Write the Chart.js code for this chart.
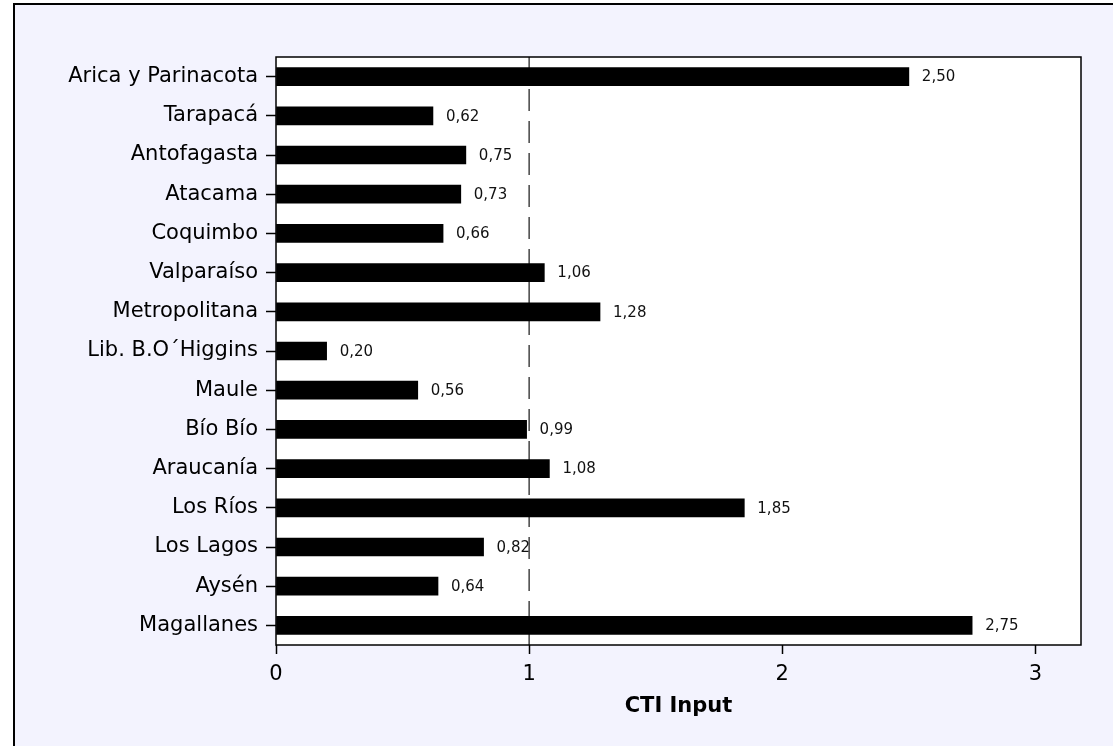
<!DOCTYPE html>
<html>
<head>
<meta charset="utf-8">
<script src="https://cdn.jsdelivr.net/npm/chart.js@4/dist/chart.umd.min.js"></script>
<style>
  html, body { margin: 0; padding: 0; background: #fff; }
  #wrap { width: 1113px; height: 746px; position: relative; }
</style>
</head>
<body>
<div id="wrap"><canvas id="cti_chart"></canvas></div>
<script>
const regions = ['Arica y Parinacota', 'Tarapacá', 'Antofagasta', 'Atacama', 'Coquimbo',
    'Valparaíso', 'Metropolitana', 'Lib. B.O\u00B4Higgins', 'Maule', 'Bío Bío',
    'Araucanía', 'Los Ríos', 'Los Lagos', 'Aysén', 'Magallanes'];
const ctiValues = [2.50, 0.62, 0.75, 0.73, 0.66, 1.06, 1.28, 0.20, 0.56, 0.99, 1.08, 1.85, 0.82, 0.64, 2.75];
const xTicks = [0, 1, 2, 3];
const xMax = 3.18;
const refLine = 1;
const axisTitle = 'CTI Input';

const FONT = '"DejaVu Sans", Verdana, sans-serif';

// panel background, frame, reference line, value labels, axis title
const decorations = {
    id: 'decorations',
    beforeDraw(chart) {
        const ctx = chart.ctx;
        ctx.save();
        ctx.fillStyle = '#fff';
        ctx.fillRect(0, 0, chart.width, chart.height);
        ctx.fillStyle = '#F3F3FE';
        ctx.fillRect(14, 4, chart.width, chart.height);
        ctx.strokeStyle = '#000';
        ctx.lineWidth = 2;
        ctx.strokeRect(14, 4, chart.width + 10, chart.height + 10);
        const a = chart.chartArea;
        ctx.fillStyle = '#fff';
        ctx.fillRect(a.left, a.top, a.right - a.left, a.bottom - a.top);
        ctx.restore();
    },
    beforeDatasetsDraw(chart) {
        const ctx = chart.ctx, a = chart.chartArea;
        const x = chart.scales.x.getPixelForValue(refLine);
        ctx.save();
        ctx.strokeStyle = '#444';
        ctx.lineWidth = 1.5;
        ctx.setLineDash([22, 10]);
        ctx.beginPath();
        ctx.moveTo(x, a.top);
        ctx.lineTo(x, a.bottom);
        ctx.stroke();
        ctx.restore();
    },
    afterDatasetsDraw(chart) {
        const ctx = chart.ctx, a = chart.chartArea;
        const meta = chart.getDatasetMeta(0);
        ctx.save();
        ctx.font = '15px ' + FONT;
        ctx.fillStyle = '#111';
        ctx.textAlign = 'left';
        ctx.textBaseline = 'middle';
        meta.data.forEach((bar, i) => {
            ctx.fillText(ctiValues[i].toFixed(2).replace('.', ','), bar.x + 13, bar.y + 1);
        });
        ctx.strokeStyle = '#000';
        ctx.lineWidth = 1.5;
        ctx.strokeRect(a.left, a.top, a.right - a.left, a.bottom - a.top);
        ctx.font = 'bold 21px ' + FONT;
        ctx.textAlign = 'center';
        ctx.fillStyle = '#000';
        ctx.fillText(axisTitle, (a.left + a.right) / 2, 707);
        ctx.restore();
    }
};

new Chart(document.getElementById('cti_chart'), {
    type: 'bar',
    data: {
        labels: regions,
        datasets: [{
            data: ctiValues,
            backgroundColor: '#000',
            barThickness: 18
        }]
    },
    options: {
        indexAxis: 'y',
        responsive: true,
        maintainAspectRatio: false,
        animation: false,
        layout: { padding: { left: 14, top: 57, right: 32, bottom: 0 } },
        plugins: { legend: { display: false }, tooltip: { enabled: false } },
        scales: {
            x: {
                type: 'linear',
                min: 0,
                max: xMax,
                afterBuildTicks: s => { s.ticks = xTicks.map(v => ({ value: v })); },
                afterFit: s => { s.height = 101; },
                border: { display: false },
                grid: { drawOnChartArea: false, drawTicks: true, tickLength: 9, tickColor: '#000', tickWidth: 1.5 },
                ticks: { color: '#000', padding: 8, font: { family: FONT, size: 21 } }
            },
            y: {
                afterFit: s => { s.width = 262; },
                border: { display: false },
                grid: { offset: false, drawOnChartArea: false, drawTicks: true, tickLength: 10, tickColor: '#000', tickWidth: 1.5 },
                ticks: { color: '#000', padding: 8, font: { family: FONT, size: 21 } }
            }
        }
    },
    plugins: [decorations]
});
</script>
</body>
</html>
